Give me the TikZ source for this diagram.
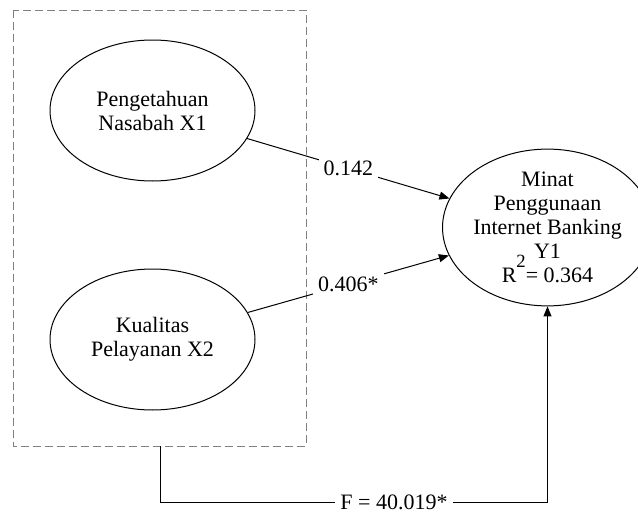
\documentclass[tikz,border=0pt]{standalone}
\usepackage{fontspec}
\setmainfont{Liberation Serif}
\usetikzlibrary{arrows.meta,shapes.geometric}

\newcommand{\rsquared}{R\raisebox{7.5pt}[0pt][0pt]{\scalebox{0.85}{2}}}

\tikzset{%
  every latent/.style={
    ellipse,
    draw,
    line width=0.5pt,
    minimum width=102.5pt,
    minimum height=70.5pt,
    inner sep=0pt,
    align=center,
    font=\fontsize{11}{12}\selectfont
  },
  path label/.style={
    fill=white,
    inner sep=2.5pt,
    font=\fontsize{11}{12}\selectfont
  },
  group box/.style={
    draw=gray,
    dash pattern=on 4pt off 2pt,
    line width=0.5pt
  },
}

\begin{document}
\begin{tikzpicture}[x=0.5pt, y=-0.5pt, >={Triangle[length=5pt, width=4pt]}]
  \useasboundingbox (0,0) rectangle (638,514);
  \draw [group box] (13,10) rectangle (306,446);
  \node [every latent] (X1) at (152.5,110.5) {Pengetahuan\\Nasabah X1};
  \node [every latent] (X2) at (152.5,339.5) {Kualitas\\Pelayanan X2};
  \node [every latent] (Y1) at (547.5,227.5) {Minat\\Penggunaan\\Internet Banking\\Y1\\\rsquared= 0.364};
  \coordinate (F-start) at (160,446);
  \node [path label] (F) at (394,502) {F = 40.019*};
%  X1, X2 -> Y1
\draw [->, line width=0.5pt] (X1) -- node [path label] {0.142} (Y1);
\draw [->, line width=0.5pt] (X2) -- node [path label] {0.406*} (Y1);
%  simultaneous test
\draw [line width=0.5pt] (F-start) |- (F.west);
\draw [->, line width=0.5pt] (F.east) -| (Y1.south);
\end{tikzpicture}
\end{document}
